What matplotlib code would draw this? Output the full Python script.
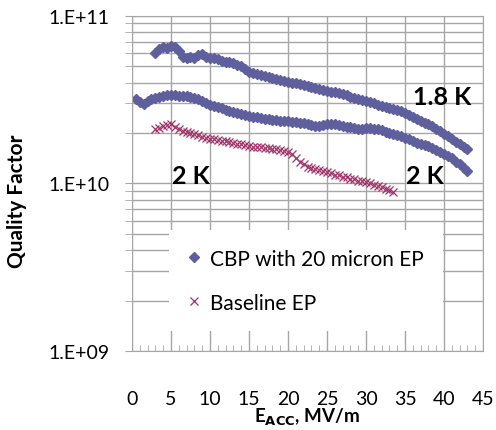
import numpy as np
import matplotlib
matplotlib.use("Agg")
from matplotlib import pyplot as plt
from matplotlib.ticker import LogLocator, MultipleLocator, FixedFormatter, NullFormatter

plt.rcParams['font.family'] = ['Lato', 'DejaVu Sans']

# CBP with 20 micron EP, 1.8 K
e_cbp18 = [3.0, 3.5, 4.0, 4.5, 5.0, 5.5, 6.0, 6.5, 7.0, 7.5, 8.0, 8.5, 9.0, 9.5, 10.0,
           10.5, 11.0, 11.5, 12.0, 12.5, 13.0, 13.5, 14.0, 14.5, 15.0, 15.5, 16.0, 16.5,
           17.0, 17.5, 18.0, 18.5, 19.0, 19.5, 20.0, 20.5, 21.0, 21.5, 22.0, 22.5, 23.0,
           23.5, 24.0, 24.5, 25.0, 25.5, 26.0, 26.5, 27.0, 27.5, 28.0, 28.5, 29.0, 29.5,
           30.0, 30.5, 31.0, 31.5, 32.0, 32.5, 33.0, 33.5, 34.0, 34.5, 35.0, 35.5, 36.0,
           36.5, 37.0, 37.5, 38.0, 38.5, 39.0, 39.5, 40.0, 40.5, 41.0, 41.5, 42.0, 42.5, 43.0]
q_cbp18 = [6.0, 6.3, 6.5, 6.4, 6.6, 6.5, 6.2, 5.7, 5.6, 5.7, 5.6, 5.8, 5.9, 5.7, 5.6,
           5.6, 5.5, 5.4, 5.3, 5.3, 5.2, 5.1, 5.0, 4.8, 4.65, 4.55, 4.5, 4.45,
           4.4, 4.3, 4.25, 4.2, 4.15, 4.1, 4.05, 4.0, 3.95, 3.9, 3.85, 3.8, 3.75,
           3.7, 3.65, 3.6, 3.55, 3.5, 3.5, 3.45, 3.4, 3.35, 3.3, 3.25, 3.2, 3.15,
           3.1, 3.05, 3.0, 2.95, 2.9, 2.85, 2.8, 2.78, 2.74, 2.7, 2.62, 2.55, 2.48,
           2.42, 2.36, 2.3, 2.25, 2.2, 2.12, 2.05, 1.98, 1.92, 1.84, 1.77, 1.71, 1.66, 1.61]

# CBP with 20 micron EP, 2 K
e_cbp20 = [0.5, 1.0, 1.5, 2.0, 2.5, 3.0, 3.5, 4.0, 4.5, 5.0, 5.5, 6.0, 6.5, 7.0, 7.5,
           8.0, 8.5, 9.0, 9.5, 10.0, 10.5, 11.0, 11.5, 12.0, 12.5, 13.0, 13.5, 14.0,
           14.5, 15.0, 15.5, 16.0, 16.5, 17.0, 17.5, 18.0, 18.5, 19.0, 19.5, 20.0, 20.5,
           21.0, 21.5, 22.0, 22.5, 23.0, 23.5, 24.0, 24.5, 25.0, 25.5, 26.0, 26.5, 27.0,
           27.5, 28.0, 28.5, 29.0, 29.5, 30.0, 30.5, 31.0, 31.5, 32.0, 32.5, 33.0, 33.5,
           34.0, 34.5, 35.0, 35.5, 36.0, 36.5, 37.0, 37.5, 38.0, 38.5, 39.0, 39.5, 40.0,
           40.5, 41.0, 41.5, 42.0, 42.5, 43.0]
q_cbp20 = [3.2, 3.05, 2.98, 3.1, 3.2, 3.25, 3.3, 3.33, 3.35, 3.36, 3.35, 3.33, 3.34, 3.32, 3.3,
           3.25, 3.18, 3.1, 3.0, 2.95, 2.9, 2.85, 2.8, 2.76, 2.72, 2.68, 2.64, 2.6,
           2.56, 2.53, 2.5, 2.48, 2.46, 2.44, 2.42, 2.4, 2.38, 2.37, 2.36, 2.35, 2.33,
           2.32, 2.3, 2.28, 2.26, 2.23, 2.2, 2.2, 2.22, 2.25, 2.27, 2.25, 2.22, 2.2,
           2.18, 2.17, 2.14, 2.12, 2.12, 2.13, 2.14, 2.12, 2.1, 2.07, 2.04, 2.0, 1.97,
           1.95, 1.92, 1.88, 1.84, 1.8, 1.75, 1.72, 1.7, 1.67, 1.63, 1.58, 1.54, 1.5,
           1.46, 1.41, 1.35, 1.3, 1.24, 1.19]

# Baseline EP, 2 K
e_base = [3.0, 3.5, 4.0, 4.5, 5.0, 5.5, 6.0, 6.5, 7.0, 7.5, 8.0, 8.5, 9.0, 9.5, 10.0,
          10.5, 11.0, 11.5, 12.0, 12.5, 13.0, 13.5, 14.0, 14.5, 15.0, 15.5, 16.0, 16.5,
          17.0, 17.5, 18.0, 18.5, 19.0, 19.5, 20.0, 20.5, 21.0, 21.5, 22.0, 22.5, 23.0,
          23.5, 24.0, 24.5, 25.0, 25.5, 26.0, 26.5, 27.0, 27.5, 28.0, 28.5, 29.0, 29.5,
          30.0, 30.5, 31.0, 31.5, 32.0, 32.5, 33.0, 33.5]
q_base = [2.12, 2.15, 2.2, 2.22, 2.26, 2.18, 2.1, 2.05, 2.03, 2.0, 1.97, 1.94, 1.9, 1.87, 1.84,
          1.83, 1.81, 1.8, 1.79, 1.77, 1.75, 1.73, 1.71, 1.69, 1.67, 1.66, 1.66, 1.65,
          1.63, 1.62, 1.61, 1.6, 1.59, 1.57, 1.54, 1.5, 1.42, 1.35, 1.3, 1.26, 1.24,
          1.22, 1.2, 1.18, 1.17, 1.15, 1.13, 1.12, 1.1, 1.09, 1.07, 1.06, 1.04, 1.03,
          1.02, 1.0, 0.98, 0.96, 0.95, 0.93, 0.91, 0.89]

y_ticks = [1e9, 1e10, 1e11]
y_labels = ['1.E+09', '1.E+10', '1.E+11']

cbp_color = '#5F5F9D'
base_color = '#A0336A'
grid_color = '#A6A6A6'

fig = plt.figure(figsize=(4.96, 4.31), dpi=100)
ax = fig.add_axes([0.266, 0.183, 0.708, 0.778])

ax.plot(e_cbp18, np.array(q_cbp18) * 1e10, linestyle='none', marker='D', markersize=5.5,
        color=cbp_color, label='CBP with 20 micron EP')
ax.plot(e_cbp20, np.array(q_cbp20) * 1e10, linestyle='none', marker='D', markersize=5.5,
        color=cbp_color)
ax.plot(e_base, np.array(q_base) * 1e10, linestyle='none', marker='x', markersize=6,
        markeredgewidth=0.9, color=base_color, label='Baseline EP')

ax.set_yscale('log')
ax.set_ylim(1e9, 1e11)
ax.set_xlim(0, 45)
ax.set_yticks(y_ticks)
ax.yaxis.set_major_formatter(FixedFormatter(y_labels))
ax.yaxis.set_minor_locator(LogLocator(base=10, subs=np.arange(2, 10)))
ax.yaxis.set_minor_formatter(NullFormatter())
ax.xaxis.set_major_locator(MultipleLocator(5))
ax.xaxis.set_minor_locator(MultipleLocator(1))

ax.grid(True, which='major', axis='x', color=grid_color, linewidth=1)
ax.grid(True, which='both', axis='y', color=grid_color, linewidth=1)
ax.set_axisbelow(True)
for s in ax.spines.values():
    s.set_color(grid_color)

ax.tick_params(axis='y', which='both', direction='out', length=5, color=grid_color,
               labelsize=14, pad=11)
ax.tick_params(axis='x', which='major', direction='in', length=0, labelsize=14, pad=28)
ax.tick_params(axis='x', which='minor', direction='in', length=4, color=grid_color)

ax.set_ylabel('Quality Factor', fontsize=15, fontweight='bold')
ax.yaxis.set_label_coords(-0.30, 0.45)
ax.set_xlabel(r'E$_{\mathbf{ACC}}$, MV/m', fontsize=13.5, fontweight='bold', va='bottom')
ax.xaxis.set_label_coords(0.5, -0.226)

ax.text(39.7, 3.28e10, '1.8 K', fontsize=18, fontweight='bold', ha='center', va='center')
ax.text(7.6, 1.12e10, '2 K', fontsize=18, fontweight='bold', ha='center', va='center')
ax.text(37.6, 1.12e10, '2 K', fontsize=18, fontweight='bold', ha='center', va='center')

leg = ax.legend(loc='center left', bbox_to_anchor=(0.075, 0.21), fontsize=15,
                frameon=True, fancybox=False, edgecolor='white', framealpha=1,
                markerscale=1, handlelength=0.6, handletextpad=0.5, labelspacing=1.15,
                borderpad=0.9)
leg.get_frame().set_linewidth(0)

fig.savefig('out.png', dpi=100)
